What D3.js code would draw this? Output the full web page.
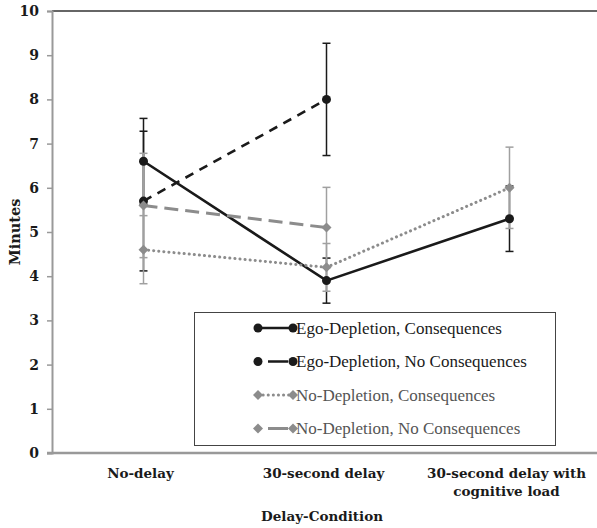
<!DOCTYPE html>
<html>
<head>
<meta charset="utf-8">
<script src="https://cdn.jsdelivr.net/npm/d3@7"></script>
<style>
  body { margin: 0; background: #fff; }
  svg { display: block; }
  .slab { font-family: 'DejaVu Serif', serif; font-weight: bold; }
</style>
</head>
<body>
<div id="chart"></div>
<script>
// Minutes by delay condition, four groups

const categories = ['No-delay', '30-second delay', '30-second delay with cognitive load'];
const categoryLines = [['No-delay'], ['30-second delay'], ['30-second delay with', 'cognitive load']];
const seriesNames = ['Ego-Depletion, Consequences', 'Ego-Depletion, No Consequences',
                     'No-Depletion, Consequences', 'No-Depletion, No Consequences'];
const egoCons = [6.6, 3.9, 5.3];
const egoConsErr = [0.97, 0.51, 0.74];
const egoNoCons = [5.7, 8.0, null];
const egoNoConsErr = [1.58, 1.27, null];
const noDepCons = [4.6, 4.2, 6.0];
const noDepConsErr = [0.77, 0.54, 0.92];
const noDepNoCons = [5.6, 5.1, null];
const noDepNoConsErr = [1.18, 0.91, null];
const yTicks = [0, 1, 2, 3, 4, 5, 6, 7, 8, 9, 10];

const width = 597, height = 528;
const margin = { top: 11, left: 52, bottom: 75 };
const plotBottom = height - margin.bottom;

const styles = [
  { color: '#1a1a1a', errColor: '#1a1a1a', dash: null, width: 2.6, marker: 'circle' },
  { color: '#1a1a1a', errColor: '#1a1a1a', dash: '9,7', width: 2.6, marker: 'circle' },
  { color: '#8c8c8c', errColor: '#a0a0a0', dash: '0.1,5', width: 3, marker: 'diamond', cap: 'round' },
  { color: '#8c8c8c', errColor: '#a0a0a0', dash: '14,7', width: 3, marker: 'diamond' }
];

const series = [
  { name: seriesNames[0], values: egoCons, errs: egoConsErr },
  { name: seriesNames[1], values: egoNoCons, errs: egoNoConsErr },
  { name: seriesNames[2], values: noDepCons, errs: noDepConsErr },
  { name: seriesNames[3], values: noDepNoCons, errs: noDepNoConsErr }
];

const svg = d3.select('#chart').append('svg')
  .attr('width', width).attr('height', height);

const x = d3.scaleBand()
  .domain(categories)
  .range([margin.left, 601])
  .padding(0);
const cx = c => x(c) + x.bandwidth() / 2;

const y = d3.scaleLinear()
  .domain([0, 10])
  .range([plotBottom, margin.top]);

// top border of plot area
svg.append('line')
  .attr('x1', margin.left).attr('x2', width)
  .attr('y1', y(10)).attr('y2', y(10))
  .attr('stroke', '#333').attr('stroke-width', 1.5);

// y axis
const yAxis = svg.append('g')
  .attr('transform', `translate(${margin.left},0)`)
  .call(d3.axisLeft(y).tickValues(yTicks).tickSize(5).tickPadding(8));
yAxis.select('.domain').attr('stroke', '#999').attr('stroke-width', 2);
yAxis.selectAll('.tick line').attr('stroke', '#999').attr('stroke-width', 1.5);
yAxis.selectAll('.tick text')
  .attr('class', 'slab').attr('font-family', null)
  .attr('font-size', '14px').attr('fill', '#1a1a1a');

svg.append('text')
  .attr('class', 'slab')
  .attr('transform', `translate(20,${(y(0) + y(10)) / 2}) rotate(-90)`)
  .attr('text-anchor', 'middle')
  .attr('font-size', '14.5px').attr('fill', '#1a1a1a')
  .text('Minutes');

// error bars
series.forEach((s, si) => {
  const st = styles[si];
  const g = svg.append('g').attr('stroke', st.errColor).attr('stroke-width', 1.5);
  categories.forEach((c, i) => {
    if (s.values[i] == null) return;
    const lo = y(s.values[i] - s.errs[i]), hi = y(s.values[i] + s.errs[i]);
    g.append('line').attr('x1', cx(c)).attr('x2', cx(c)).attr('y1', lo).attr('y2', hi);
    g.append('line').attr('x1', cx(c) - 4).attr('x2', cx(c) + 4).attr('y1', lo).attr('y2', lo);
    g.append('line').attr('x1', cx(c) - 4).attr('x2', cx(c) + 4).attr('y1', hi).attr('y2', hi);
  });
});

const diamond = d3.symbol().type(d3.symbolDiamond2).size(64);

function drawMarker(g, st, px, py) {
  if (st.marker === 'circle') {
    g.append('circle').attr('cx', px).attr('cy', py).attr('r', 4.5).attr('fill', st.color);
  } else {
    g.append('path').attr('d', diamond()).attr('transform', `translate(${px},${py})`)
      .attr('fill', st.color);
  }
}

// lines and markers
const line = d3.line()
  .defined(d => d.v != null)
  .x(d => cx(d.c))
  .y(d => y(d.v));

series.forEach((s, si) => {
  const st = styles[si];
  const pts = categories.map((c, i) => ({ c: c, v: s.values[i] }));
  const g = svg.append('g');
  g.append('path')
    .attr('d', line(pts))
    .attr('fill', 'none')
    .attr('stroke', st.color)
    .attr('stroke-width', st.width)
    .attr('stroke-dasharray', st.dash)
    .attr('stroke-linecap', st.cap || 'butt');
  pts.filter(d => d.v != null).forEach(d => drawMarker(g, st, cx(d.c), y(d.v)));
});

// x axis
svg.append('line')
  .attr('x1', margin.left - 5).attr('x2', width)
  .attr('y1', plotBottom).attr('y2', plotBottom)
  .attr('stroke', '#999').attr('stroke-width', 2.5);

const xLabels = svg.append('g')
  .attr('class', 'slab')
  .attr('font-size', '13.5px').attr('fill', '#1a1a1a')
  .attr('text-anchor', 'middle');
categories.forEach((c, i) => {
  const t = xLabels.append('text').attr('y', 478);
  categoryLines[i].forEach((ln, j) => {
    t.append('tspan').attr('x', cx(c) - 3).attr('dy', j === 0 ? 0 : 18).text(ln);
  });
});

svg.append('text')
  .attr('class', 'slab')
  .attr('x', 322).attr('y', 521)
  .attr('text-anchor', 'middle')
  .attr('font-size', '13.5px').attr('fill', '#1a1a1a')
  .text('Delay-Condition');

// legend
const legend = svg.append('g');
legend.append('rect')
  .attr('x', 194.5).attr('y', 312.5).attr('width', 361).attr('height', 133)
  .attr('fill', '#fff').attr('stroke', '#444').attr('stroke-width', 1);

series.forEach((s, si) => {
  const st = styles[si];
  const ly = 328 + si * 33.5;
  const lg = legend.append('g');
  lg.append('line')
    .attr('x1', 258).attr('x2', 293).attr('y1', ly).attr('y2', ly)
    .attr('stroke', st.color).attr('stroke-width', st.width)
    .attr('stroke-dasharray', si === 2 ? '0.1,5' : (si === 0 ? null : '0,10,10'))
    .attr('stroke-linecap', st.cap || 'butt');
  drawMarker(lg, st, 258, ly);
  drawMarker(lg, st, 293, ly);
  lg.append('text')
    .attr('x', 296).attr('y', ly + 5.5)
    .style('font-family', "'Liberation Serif', 'Times New Roman', Times, serif")
    .style('font-size', '17px')
    .attr('fill', si < 2 ? '#1a1a1a' : '#555')
    .text(s.name);
});
</script>
</body>
</html>
